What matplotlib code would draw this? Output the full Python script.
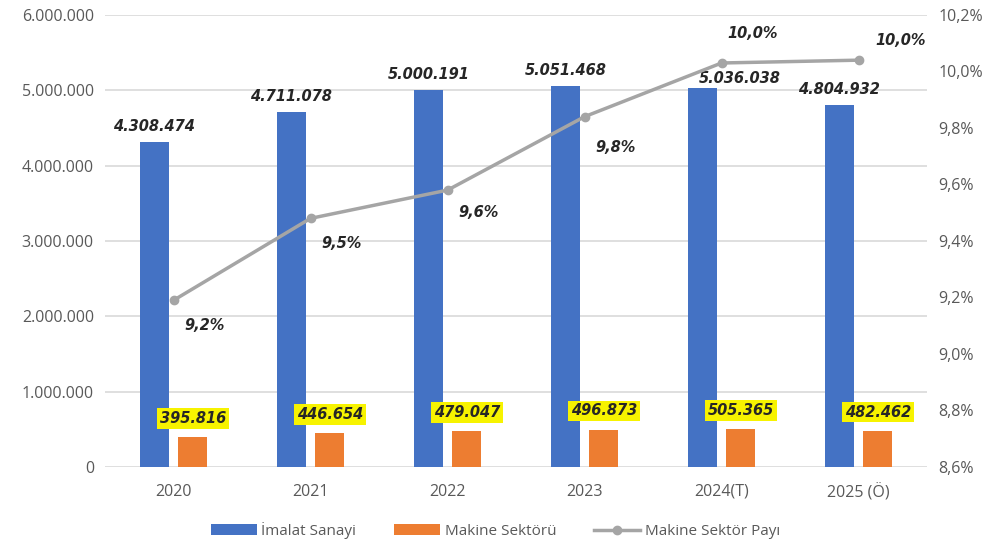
import numpy as np
import matplotlib.pyplot as plt
from matplotlib.ticker import FuncFormatter

years = ['2020', '2021', '2022', '2023', '2024(T)', '2025 (Ö)']
imalat = [4308474, 4711078, 5000191, 5051468, 5036038, 4804932]
makine = [395816, 446654, 479047, 496873, 505365, 482462]
pay = [9.19, 9.48, 9.58, 9.84, 10.03, 10.04]
pay_labels = ['9,2%', '9,5%', '9,6%', '9,8%', '10,0%', '10,0%']
# label offsets (points) for the share labels
pay_offsets = [(22, -18), (22, -18), (22, -16), (22, -22), (22, 21), (30, 14)]
# offsets (points) for the blue bar labels
imalat_off = [(0, 6), (0, 6), (0, 6), (0, 6), (27, 1), (0, 6)]

plt.rcParams['font.family'] = ['Open Sans', 'DejaVu Sans']

fig = plt.figure(figsize=(9.91, 5.42), dpi=100)
ax = fig.add_axes([0.106, 0.1384, 0.8295, 0.834])
ax2 = ax.twinx()

x = np.arange(len(years))
w = 0.21
blue = '#4472C4'
orange = '#ED7D31'
grey = '#A5A5A5'
tick_col = '#595959'
lab_col = '#262626'
lab_font = dict(fontsize=10.5, fontweight='bold', fontstyle='italic',
                color=lab_col, family='DejaVu Sans')

b1 = ax.bar(x - 0.14, imalat, w, color=blue, label='İmalat Sanayi', zorder=2)
b2 = ax.bar(x + 0.14, makine, w, color=orange, label='Makine Sektörü', zorder=2)

for xi, v, off in zip(x, imalat, imalat_off):
    ax.annotate(f'{v:,}'.replace(',', '.'), (xi - 0.14, v), xytext=off,
                textcoords='offset points', ha='center', va='bottom', **lab_font)
for xi, v in zip(x, makine):
    ax.annotate(f'{v:,}'.replace(',', '.'), (xi + 0.14, v), xytext=(0, 8),
                textcoords='offset points', ha='center', va='bottom',
                bbox=dict(boxstyle='square,pad=0.2', fc='#F7F300', ec='none'),
                **lab_font)

ax.set_ylim(0, 6000000)
ax.set_yticks(np.arange(0, 6000001, 1000000))
ax.yaxis.set_major_formatter(FuncFormatter(lambda v, p: f'{int(v):,}'.replace(',', '.')))
ax.set_xlim(-0.5, len(years) - 0.5)
ax.set_xticks(x)
ax.set_xticklabels(years)
ax.grid(axis='y', color='#D9D9D9', linewidth=1.2, zorder=0)
ax.set_axisbelow(True)
ax.tick_params(length=0, labelsize=11.5, colors=tick_col, pad=8)
ax.tick_params(axis='x', pad=12)
for s in ax.spines.values():
    s.set_visible(False)

ln, = ax2.plot(x, pay, color=grey, linewidth=2.5, marker='o', markersize=6,
               label='Makine Sektör Payı', zorder=3)
for xi, v, t, off in zip(x, pay, pay_labels, pay_offsets):
    ax2.annotate(t, (xi, v), xytext=off, textcoords='offset points',
                 ha='center', va='center', **lab_font)
ax2.set_ylim(8.6, 10.2)
ax2.set_yticks(np.arange(8.6, 10.21, 0.2))
ax2.yaxis.set_major_formatter(FuncFormatter(lambda v, p: f'{v:.1f}%'.replace('.', ',')))
ax2.tick_params(length=0, labelsize=11.5, colors=tick_col, pad=8)
for s in ax2.spines.values():
    s.set_visible(False)

fig.legend(handles=[b1, b2, ln], loc='lower center', bbox_to_anchor=(0.5, -0.02),
           ncol=3, frameon=False, fontsize=11, labelcolor=tick_col,
           handlelength=3, handletextpad=0.3, columnspacing=2.5)

fig.savefig('out.png', dpi=100)
